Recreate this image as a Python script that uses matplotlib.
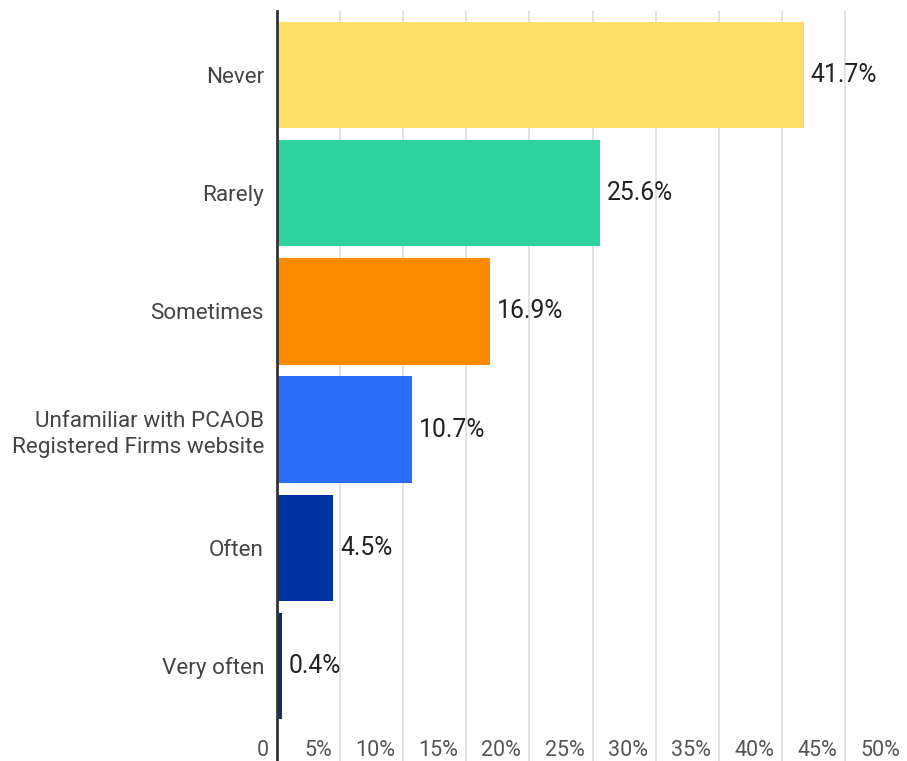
import matplotlib.pyplot as plt
import matplotlib.transforms as mtransforms

plt.rcParams['font.family'] = ['Roboto', 'DejaVu Sans']

# --- dados ---
categories = ['Never', 'Rarely', 'Sometimes',
              'Unfamiliar with PCAOB\nRegistered Firms website',
              'Often', 'Very often']
values = [41.7, 25.6, 16.9, 10.7, 4.5, 0.4]
colors = ['#FFE066', '#2ED3A0', '#FF8C00', '#2B6DF8', '#0033A1', '#0B2F75']
tick_values = list(range(0, 55, 5))
tick_labels = ['0'] + [f'{t}%' for t in tick_values[1:]]

fig = plt.figure(figsize=(9.07, 7.61), dpi=100)
# eixo ocupa de x=276.5px ate alem da borda direita (50% fica fora da figura)
ax = fig.add_axes([276.5 / 907, 0, 632 / 907, 750 / 761])

y = list(range(len(categories)))
ax.barh(y, values, height=0.9, color=colors, zorder=3)

ax.set_xlim(0, 50)
ax.set_ylim(5.5 + 36 / 118, -0.5 - 5 / 118)

# --- grade ---
ax.set_xticks(tick_values)
ax.xaxis.grid(True, color='#dddddd', linewidth=1.2, zorder=0)
ax.tick_params(axis='x', length=0, labelbottom=False)
ax.tick_params(axis='y', length=0, pad=9, labelsize=16.2, labelcolor='#444444')
ax.set_yticks(y)
ax.set_yticklabels(categories, ha='right', linespacing=1.3)

for s in ['top', 'right', 'bottom']:
    ax.spines[s].set_visible(False)
ax.spines['left'].set_color('#333333')
ax.spines['left'].set_linewidth(2)
ax.spines['left'].set_zorder(5)

# rotulos do eixo x (alinhados a direita, um pouco antes da linha)
trans = mtransforms.blended_transform_factory(ax.transData, fig.transFigure)
offset = mtransforms.ScaledTranslation(-8 / 100, 0, fig.dpi_scale_trans)
for t, lab in zip(tick_values, tick_labels):
    ax.text(t, 11 / 761, lab, transform=trans + offset, ha='right', va='center',
            fontsize=15.5, color='#555555', clip_on=False)

# valores nas barras
for yi, v in zip(y, values):
    ax.annotate(f'{v}%', (v, yi), xytext=(5, 0), textcoords='offset points',
                ha='left', va='center', fontsize=17.8, color='#222222', zorder=6)

fig.savefig('out.png', dpi=100)
